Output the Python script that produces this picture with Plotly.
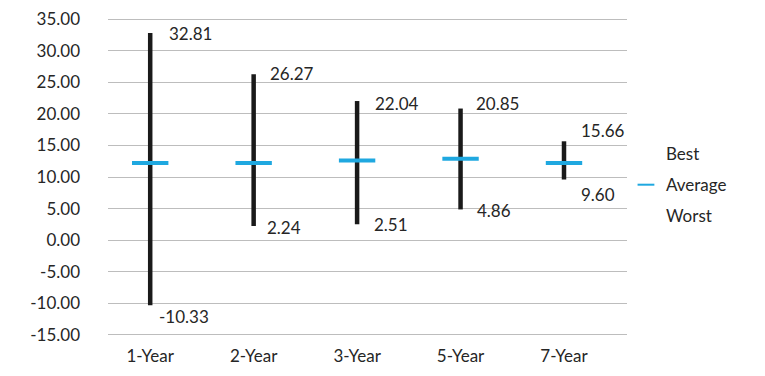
import plotly.graph_objects as go

categories = ["1-Year", "2-Year", "3-Year", "5-Year", "7-Year"]
best = [32.81, 26.27, 22.04, 20.85, 15.66]
average = [12.2, 12.2, 12.6, 12.9, 12.2]
worst = [-10.33, 2.24, 2.51, 4.86, 9.60]
y_ticks = [-15, -10, -5, 0, 5, 10, 15, 20, 25, 30, 35]

# label offsets (pixels): (xshift, yshift)
best_off = [(17, 0), (14, 1), (16, -2), (13, 5), (15, 11)]
worst_off = [(7, -11), (11, -2), (15, 0), (14, -1), (15, -15)]

FONT = "Lato"
TXT = "#262626"
BLUE = "#1fa8e0"

fig = go.Figure()

# high-low lines
xs, ys = [], []
for c, w, b in zip(categories, worst, best):
    xs += [c, c, None]
    ys += [w, b, None]
fig.add_trace(go.Scatter(x=xs, y=ys, mode="lines",
                         line=dict(color="#1a1a1a", width=4.5),
                         showlegend=False, hoverinfo="skip"))

fig.add_trace(go.Scatter(x=categories, y=best, mode="markers", name="Best",
                         marker=dict(color="rgba(0,0,0,0)", size=1),
                         legendgroup="a"))
fig.add_trace(go.Scatter(x=categories, y=average, mode="markers", name="Average",
                         marker=dict(symbol="line-ew", size=26, color=BLUE,
                                     line=dict(color=BLUE, width=4)),
                         legendgroup="b"))
fig.add_trace(go.Scatter(x=categories, y=worst, mode="markers", name="Worst",
                         marker=dict(color="rgba(0,0,0,0)", size=1),
                         legendgroup="c"))

for c, v, (dx, dy) in zip(categories, best, best_off):
    fig.add_annotation(x=c, y=v, text=f"{v:.2f}", showarrow=False,
                       xanchor="left", yanchor="middle", xshift=dx, yshift=dy,
                       font=dict(family=FONT, size=17, color=TXT))
for c, v, (dx, dy) in zip(categories, worst, worst_off):
    fig.add_annotation(x=c, y=v, text=f"{v:.2f}", showarrow=False,
                       xanchor="left", yanchor="middle", xshift=dx, yshift=dy,
                       font=dict(family=FONT, size=17, color=TXT))

fig.update_layout(
    width=765, height=376,
    margin=dict(l=100, r=146, t=10, b=48),
    paper_bgcolor="white", plot_bgcolor="white",
    font=dict(family=FONT, size=17, color=TXT),
    showlegend=True,
    legend=dict(x=0.998, y=0.4747, xanchor="left", yanchor="middle",
                tracegroupgap=6, itemsizing="constant",
                bgcolor="rgba(0,0,0,0)",
                font=dict(family=FONT, size=17, color=TXT)),
    xaxis=dict(showgrid=False, showline=False, ticks="", zeroline=False,
               ticklabelstandoff=8, automargin=False),
    yaxis=dict(range=[-15.2, 35.2], tickmode="array", tickvals=y_ticks,
               ticktext=[f"{t:.2f}" for t in y_ticks],
               showgrid=True, gridcolor="#bdbdbd", gridwidth=1.3,
               zeroline=False, showline=False, ticks="", ticklabelstandoff=27,
               ticklabeloverflow="allow", automargin=False),
)

fig.write_html("out.html")
